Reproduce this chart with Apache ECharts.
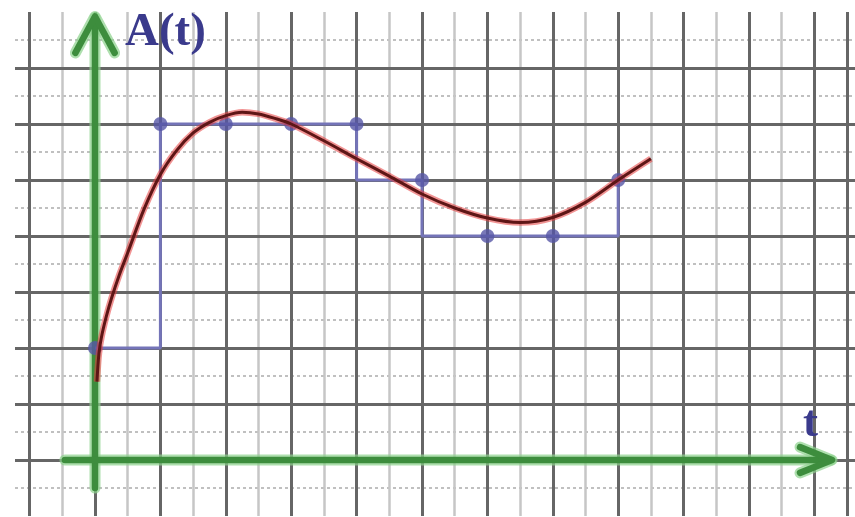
<!DOCTYPE html>
<html>
<head>
<meta charset="utf-8">
<script src="https://cdn.jsdelivr.net/npm/echarts@6/dist/echarts.min.js"></script>
<style>html,body{margin:0;padding:0;background:#fff;}#c{width:855px;height:517px;}</style>
</head>
<body>
<div id="c"></div>
<script>
// Red curve A(t)
const curveT = [0.03, 0.06, 0.1, 0.17, 0.25, 0.37, 0.5, 0.75, 1.0, 1.25, 1.5, 1.75, 2.0, 2.25, 2.5, 2.75, 3.0, 3.5, 4.0, 4.5, 5.0, 5.5, 6.0, 6.5, 7.0, 7.5, 8.0, 8.5];
const curveA = [1.4, 1.9, 2.2, 2.55, 2.88, 3.3, 3.7, 4.48, 5.1, 5.53, 5.84, 6.03, 6.15, 6.21, 6.18, 6.1, 6.0, 5.7, 5.38, 5.07, 4.75, 4.5, 4.32, 4.24, 4.33, 4.6, 5.0, 5.38];
// Blue step function (step at end)
const stepT = [0, 1, 4, 5, 8];
const stepA = [2, 6, 5, 4, 5];
// Blue dots
const dotT = [0, 1, 2, 3, 4, 5, 6, 7, 8];
const dotA = [2, 6, 6, 6, 6, 5, 4, 4, 5];
// Green axes with arrow heads
const vAxisT = [0, 0];
const vAxisA = [-0.5, 7.9];
const vHeadT = [-0.3, 0, 0.3];
const vHeadA = [7.27, 7.92, 7.27];
const hAxisT = [-0.46, 11.25];
const hAxisA = [0, 0];
const hHeadT = [10.78, 11.27, 10.78];
const hHeadA = [0.23, 0, -0.23];
// Axis labels
const yLabel = 'A(t)';
const xLabel = 't';

const zip = (a, b) => a.map((v, i) => [v, b[i]]);

const green = (data, color, width, z) => ({
  type: 'line', xAxisIndex: 0, yAxisIndex: 0, data: data, symbol: 'none',
  silent: true, z: z,
  lineStyle: { color: color, width: width, cap: 'round', join: 'round' }
});

const greenParts = [zip(vAxisT, vAxisA), zip(vHeadT, vHeadA), zip(hAxisT, hAxisA), zip(hHeadT, hHeadA)];

const series = [];
greenParts.forEach(p => series.push(green(p, 'rgba(140,210,140,0.7)', 11, 3)));
greenParts.forEach(p => series.push(green(p, '#3d8d3d', 6.5, 4)));

series.push({
  type: 'line', xAxisIndex: 0, yAxisIndex: 0, data: zip(stepT, stepA), step: 'end',
  symbol: 'none', z: 5, lineStyle: { color: '#7474b8', width: 3 }
});
series.push({
  type: 'scatter', xAxisIndex: 0, yAxisIndex: 0, data: zip(dotT, dotA),
  symbol: 'circle', symbolSize: 14, z: 6, itemStyle: { color: '#5656a6' }
});
series.push({
  type: 'line', xAxisIndex: 0, yAxisIndex: 0, data: zip(curveT, curveA), smooth: 0.3,
  symbol: 'none', z: 7, lineStyle: { color: 'rgba(230,60,60,0.55)', width: 6.5 }
});
series.push({
  type: 'line', xAxisIndex: 0, yAxisIndex: 0, data: zip(curveT, curveA), smooth: 0.3,
  symbol: 'none', z: 8, lineStyle: { color: '#5e1616', width: 3 }
});

const hidden = { axisLine: { show: false }, axisTick: { show: false }, axisLabel: { show: false } };

const option = {
  animation: false,
  backgroundColor: '#ffffff',
  grid: [
    { left: 29.6, right: 7.9, top: 12, bottom: 1 },
    { left: 15, right: 0, top: 12, bottom: 1 }
  ],
  xAxis: [
    Object.assign({ type: 'value', gridIndex: 0, min: -1, max: 11.5, interval: 1, z: 1,
      splitLine: { show: true, lineStyle: { color: '#666666', width: 3 } } }, hidden),
    Object.assign({ type: 'value', gridIndex: 0, min: -1, max: 11.5, interval: 0.5, z: 0,
      splitLine: { show: true, lineStyle: { color: '#c6c6c6', width: 2.5 } } }, hidden),
    Object.assign({ type: 'value', gridIndex: 1, min: 0, max: 1, splitLine: { show: false } }, hidden)
  ],
  yAxis: [
    Object.assign({ type: 'value', gridIndex: 0, min: -1, max: 8, splitLine: { show: false } }, hidden),
    Object.assign({ type: 'value', gridIndex: 1, min: -1, max: 8, interval: 1, z: 1,
      splitLine: { show: true, showMinLine: false, showMaxLine: false, lineStyle: { color: '#666666', width: 3 } } }, hidden),
    Object.assign({ type: 'value', gridIndex: 1, min: -1, max: 8, interval: 0.5, z: 0,
      splitLine: { show: true, showMinLine: false, showMaxLine: false, lineStyle: { color: '#c0c0c0', width: 2, type: [3, 3] } } }, hidden)
  ],
  graphic: [
    { type: 'text', left: 125, top: 9, z: 10,
      style: { text: yLabel, font: 'bold 47px "Liberation Serif", "DejaVu Serif", serif', fill: '#3a3a8c' } },
    { type: 'text', left: 803, top: 402, z: 10,
      style: { text: xLabel, font: 'bold 45px "Liberation Serif", "DejaVu Serif", serif', fill: '#3a3a8c' } }
  ],
  series: series
};

const chart = echarts.init(document.getElementById('c'), null, { renderer: 'canvas' });
chart.setOption(option);
</script>
</body>
</html>
